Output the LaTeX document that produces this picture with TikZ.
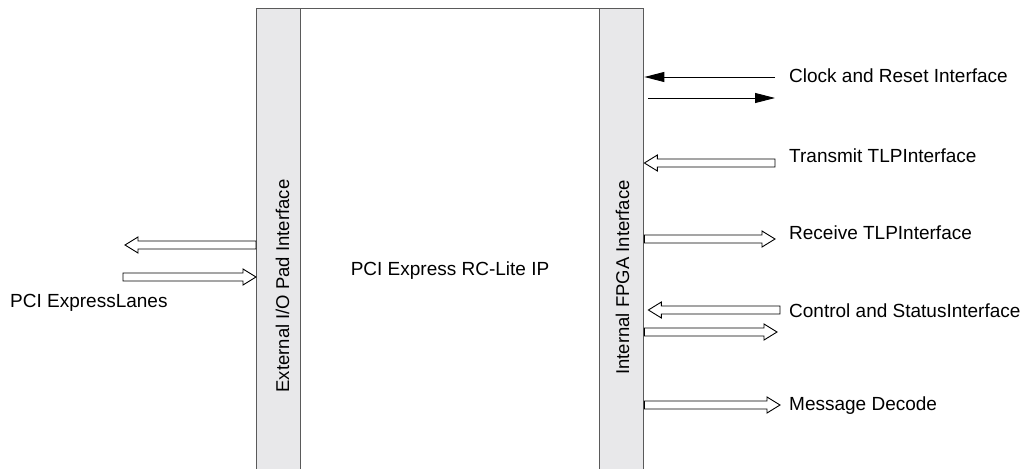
\documentclass[tikz,border=0pt]{standalone}
\usepackage{fontspec}
\setmainfont{Liberation Sans}
\usetikzlibrary{calc,arrows.meta}
\definecolor{stripgray}{RGB}{232,232,234}
\definecolor{edgegray}{RGB}{90,90,90}
\begin{document}
\begin{tikzpicture}[x=1pt,y=-1pt,
  lbl/.style={font=\fontsize{19}{23}\selectfont, inner sep=0pt},
  vlbl/.style={font=\fontsize{18.5}{22}\selectfont, inner sep=0pt, rotate=90, anchor=base},
  boxframe/.style={draw=edgegray, line width=1.4pt, fill=white, minimum width=387pt, minimum height=480pt, inner sep=0pt, anchor=north west},
  strip/.style={draw=edgegray, line width=1.4pt, fill=stripgray, minimum width=44pt, minimum height=480pt, inner sep=0pt, anchor=north west},
  thinarrow/.style={draw=black, line width=0.9pt, -{Triangle[length=20pt,width=10pt]}},
  hollow/.style={draw=black, line width=0.9pt, fill=white, to path={
    let \p1=(\tikztostart), \p2=(\tikztotarget), \p3=($(\p2)!13pt!(\p1)$) in
    ($(\p1)!4pt!90:(\p2)$) -- ($(\p3)!4pt!90:(\p2)$) -- ($(\p3)!8pt!90:(\p2)$) -- (\p2)
    -- ($(\p3)!8pt!-90:(\p2)$) -- ($(\p3)!4pt!-90:(\p2)$) -- ($(\p1)!4pt!-90:(\p2)$) -- cycle}}
]
\useasboundingbox (0,0) rectangle (1024,468);
\fill[white] (0,0) rectangle (1024,468);

\node[boxframe] (ip) at (256,8) {};
\node[strip] (ext) at (256,8) {};
\node[strip] (fpga) at (599,8) {};

\node[lbl, anchor=base] (iplabel) at (450,275) {PCI Express RC-Lite IP};
\node[vlbl] (extlabel) at (289,286) {External I/O Pad Interface};
\node[vlbl] (fpgalabel) at (629,277.5) {Internal FPGA Interface};

% left side
\coordinate (pl1) at (125,245);
\coordinate (pl2) at (123,277);
\draw[hollow] (ext.west |- pl1) to (pl1);
\draw[hollow] (pl2) to (ext.west |- pl2);
\node[lbl, anchor=base west] (lanes) at (10,307) {PCI ExpressLanes};

% right side
\coordinate (ck1) at (775,77);
\coordinate (ck2) at (775,98);
\coordinate (tx) at (775,163);
\coordinate (rx) at (775,239);
\coordinate (cs1) at (780,310);
\coordinate (cs2) at (777,332);
\coordinate (md) at (780,405);

\draw[thinarrow] (ck1) -- (fpga.east |- ck1);
\draw[thinarrow] ($(fpga.east |- ck2)+(4,0)$) -- (ck2);
\draw[hollow] (tx) to (fpga.east |- tx);
\draw[hollow] (fpga.east |- rx) to (rx);
\draw[hollow] (cs1) to ($(fpga.east |- cs1)+(4,0)$);
\draw[hollow] (fpga.east |- cs2) to (cs2);
\draw[hollow] (fpga.east |- md) to (md);

\node[lbl, anchor=base west] (cklabel) at (789,83) {Clock and Reset Interface};
\node[lbl, anchor=base west] (txlabel) at (789,162) {Transmit TLPInterface};
\node[lbl, anchor=base west] (rxlabel) at (789,239) {Receive TLPInterface};
\node[lbl, anchor=base west] (cslabel) at (789,317) {Control and StatusInterface};
\node[lbl, anchor=base west] (mdlabel) at (789,410) {Message Decode};
\end{tikzpicture}
\end{document}
